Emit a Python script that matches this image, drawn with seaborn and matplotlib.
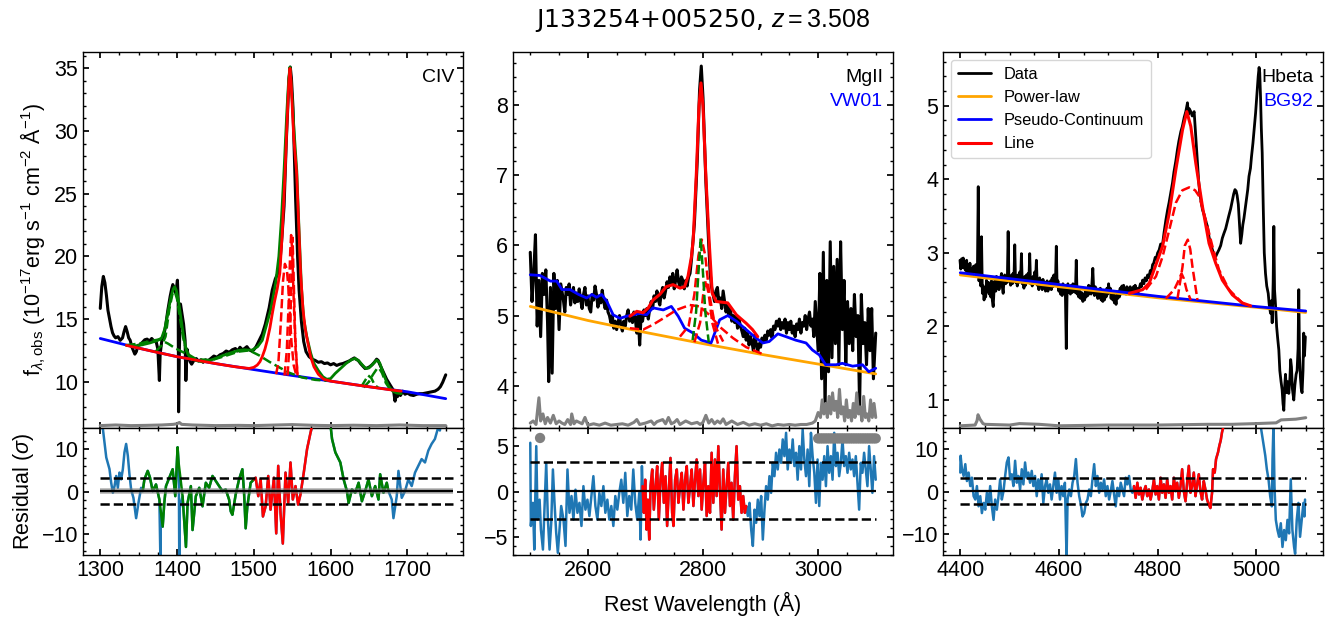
import numpy as np
import seaborn as sns
import matplotlib.pyplot as plt
from matplotlib.gridspec import GridSpec
from matplotlib.ticker import AutoMinorLocator, MultipleLocator

# ---------------- CIV window ----------------
civ_wave = [1300, 1302, 1304, 1306, 1308, 1310, 1312, 1314, 1316, 1318, 1320, 1323, 1326, 1329, 1331,
            1333, 1335, 1337, 1339, 1341, 1343, 1345, 1347, 1349, 1352, 1355, 1358, 1361, 1364, 1367,
            1370, 1373, 1375, 1377, 1378, 1380, 1382, 1385, 1388, 1391, 1393, 1394.5, 1396.5, 1398.5,
            1400.5, 1401.5, 1402, 1403, 1404.5, 1406.5, 1408.5, 1410.5, 1411.5, 1413, 1415, 1417, 1419,
            1422, 1425, 1428, 1431, 1434, 1437, 1440, 1444, 1448, 1452, 1456, 1460, 1464, 1468, 1472,
            1476, 1479, 1482, 1485, 1488, 1491, 1494, 1497, 1500, 1503, 1507, 1511, 1515, 1520, 1524,
            1528, 1531, 1533, 1536, 1539.4, 1542.4, 1545.8, 1547.5, 1549, 1551, 1554.5, 1557, 1559,
            1562, 1565, 1568, 1572, 1576, 1580, 1584, 1588, 1592, 1596, 1600, 1604, 1608, 1612, 1616,
            1620, 1624, 1628, 1631, 1633, 1636, 1639, 1642, 1645, 1648, 1651, 1654, 1657, 1660, 1662,
            1664, 1667, 1670, 1673, 1676, 1679, 1682, 1684, 1685.5, 1687, 1689, 1691, 1694, 1697, 1700,
            1704, 1708, 1712, 1716, 1720, 1724, 1728, 1732, 1736, 1740, 1743, 1746, 1748, 1750]
civ_flux = [15.85, 17.6, 18.4, 17.9, 16.9, 15.7, 15.05, 14.4, 13.9, 13.65, 13.5, 13.6, 13.3, 13.5, 14.0,
            14.4, 14.0, 13.5, 13.3, 12.8, 12.5, 12.2, 12.4, 12.9, 12.95, 13.15, 13.35, 13.4, 13.25, 13.45,
            13.25, 13.15, 12.6, 10.1, 12.2, 13.2, 13.5, 14.4, 15.7, 16.8, 17.4, 17.75, 17.4, 17.1,
            18.1, 16.5, 7.6, 12.5, 16.2, 15.4, 14.6, 13.3, 10.1, 12.6, 12.0, 11.6, 11.4,
            11.7, 11.85, 11.65, 11.75, 11.55, 11.75, 11.65, 11.85, 12.05, 11.95, 12.15, 12.25, 12.45, 12.35, 12.55,
            12.65, 12.45, 12.75, 12.55, 12.65, 12.8, 12.55, 12.45, 12.55, 12.8, 13.3, 13.8, 14.6, 15.9, 17.3,
            18.2, 18.6, 18.8, 21.0, 24.0, 29.3, 34.1, 35.1, 34.2, 31.9, 24.5, 20.0, 17.3,
            14.8, 13.2, 12.4, 12.0, 11.8, 11.7, 11.55, 11.6, 11.45, 11.5, 11.35, 11.45, 11.3, 11.4, 11.45,
            11.55, 11.65, 11.8, 11.9, 11.8, 11.7, 11.45, 11.25, 11.05, 11.1, 11.2, 11.35, 11.55, 11.8, 11.7,
            11.4, 11.0, 10.6, 10.2, 9.9, 9.6, 9.3, 8.45, 9.2, 8.8, 9.2, 8.9, 9.25, 9.0, 9.1,
            8.95, 8.9, 9.0, 9.05, 9.05, 9.1, 9.15, 9.2, 9.25, 9.4, 9.6, 9.95, 10.25, 10.55]
civ_err_wave = [1300, 1320, 1340, 1360, 1380, 1395, 1400, 1403, 1406, 1420, 1450, 1480, 1500, 1530,
                1550, 1580, 1600, 1630, 1660, 1690, 1720, 1750]
civ_err = [6.5, 6.55, 6.5, 6.52, 6.55, 6.6, 6.65, 6.75, 6.6, 6.55, 6.5, 6.52, 6.5, 6.55,
           6.58, 6.52, 6.5, 6.53, 6.5, 6.55, 6.5, 6.5]
civ_cont_wave = [1300, 1350, 1400, 1450, 1500, 1550, 1600, 1650, 1700, 1750]
civ_cont = [13.45, 12.68, 12.0, 11.45, 10.97, 10.5, 10.05, 9.6, 9.2, 8.65]
# total model (green)
civ_tot_wave = [1334, 1345, 1355, 1365, 1375, 1380, 1384, 1388, 1392, 1395, 1397, 1399, 1402, 1405, 1408,
                1411, 1414, 1418, 1424, 1432, 1440, 1450, 1460, 1470, 1480, 1488, 1494, 1498, 1505, 1511,
                1516, 1521.8, 1525, 1528.3, 1532.6, 1536, 1539.5, 1543, 1545.5, 1547.1, 1550, 1553, 1556,
                1559, 1562, 1565, 1569, 1574, 1578, 1584, 1590, 1595, 1600, 1606, 1612, 1620, 1627, 1632,
                1637, 1642, 1646, 1650, 1655, 1660, 1664, 1668, 1672, 1676, 1681, 1686, 1692]
civ_tot = [12.9, 12.85, 12.95, 13.1, 13.3, 13.5, 14.2, 15.5, 16.7, 17.4, 17.58, 17.3, 16.4, 15.1, 13.8,
           12.8, 12.2, 11.85, 11.7, 11.6, 11.65, 11.85, 12.1, 12.3, 12.5, 12.55, 12.52, 12.53, 12.8, 13.3,
           14.4, 15.7, 16.7, 17.8, 20.0, 23.0, 27.0, 31.5, 34.2, 35.1, 32.5, 29.5, 26.8,
           22.0, 17.6, 15.0, 13.6, 12.3, 11.5, 10.9, 10.4, 10.2, 10.25, 10.66, 11.0, 11.45, 11.75, 11.86,
           11.65, 11.3, 11.06, 11.1, 11.4, 11.73, 11.5, 10.8, 10.13, 9.6, 9.25, 9.1, 9.05]
# CIV line + continuum (red)
civ_line_wave = [1334, 1350, 1375, 1400, 1425, 1450, 1475, 1494, 1500, 1504.5, 1508, 1511, 1514.5,
                 1517.5, 1521, 1524, 1527, 1530.5, 1533.9, 1537, 1540.7, 1542.5, 1544.2, 1545.7, 1547.1,
                 1548.5, 1550.1, 1552, 1555.8, 1558.5, 1561, 1564, 1567, 1569.7, 1574, 1578.3, 1584,
                 1591, 1600, 1625, 1650, 1675, 1692]
civ_line = [12.9, 12.68, 12.33, 12.0, 11.72, 11.45, 11.2, 11.06, 11.15, 11.33, 11.6, 12.0, 12.6,
            13.3, 14.3, 15.4, 16.4, 17.4, 18.65, 21.8, 26.6, 29.5, 31.9, 34.0, 35.0,
            34.0, 31.9, 29.5, 26.6, 22.5, 18.65, 15.8, 14.2, 13.33, 12.0, 11.2, 10.6,
            10.2, 10.05, 9.82, 9.6, 9.38, 9.25]
# line components (red dashed)
civ_c1_wave = [1529, 1532, 1535, 1538, 1540.5, 1543, 1545, 1547, 1549, 1552, 1555]
civ_c1 = [10.6, 11.5, 14.5, 18.0, 19.4, 19.0, 17.5, 15.5, 13.2, 11.3, 10.6]
civ_c2_wave = [1540, 1543, 1545.5, 1547.5, 1548.6, 1550, 1552, 1554.5, 1557]
civ_c2 = [10.5, 12.5, 16.5, 20.5, 21.7, 20.5, 16.5, 12.5, 10.5]
civ_c3_wave = [1544, 1547, 1549, 1550.5, 1552, 1554, 1557]
civ_c3 = [10.5, 13.5, 18.0, 21.5, 18.0, 13.5, 10.4]
# other line components (green dashed)
civ_g1_wave = [1334, 1345, 1355, 1366, 1377, 1388, 1398, 1407, 1416, 1425, 1445, 1465, 1480, 1494,
               1507, 1520, 1533, 1546, 1563, 1580, 1595]
civ_g1 = [12.92, 13.0, 13.1, 13.25, 13.38, 13.05, 12.66, 12.38, 12.13, 11.8, 11.72, 12.1, 12.4, 12.5,
          12.1, 11.6, 11.15, 10.72, 10.34, 10.15, 10.08]
civ_g2_wave = [1372, 1380, 1385, 1390, 1394, 1397, 1400, 1404, 1408, 1412, 1418]
civ_g2 = [12.4, 12.9, 13.6, 15.8, 17.0, 17.2, 16.6, 15.0, 13.5, 12.5, 11.9]
civ_g3_wave = [1643, 1650, 1655, 1660, 1663, 1667, 1672, 1677]
civ_g3 = [9.55, 10.0, 10.55, 11.0, 11.1, 10.7, 9.9, 9.45]
civ_g4_wave = [1640, 1645, 1649, 1653, 1657, 1662]
civ_g4 = [9.6, 10.1, 10.5, 10.3, 9.8, 9.5]
# residuals
civ_res_wave = [1300, 1303.4, 1307.8, 1312, 1314.2, 1316.4, 1318.6, 1320.7, 1322.9, 1325, 1327.2, 1329.4,
                1331.5, 1333.7, 1335.9, 1338, 1340.2, 1343.2, 1346.7, 1350.1, 1353.2, 1355.3, 1357.5,
                1361.8, 1364.8, 1368.3, 1372.6, 1377, 1381.3, 1383.4, 1385.6, 1389.9, 1394.3, 1397.7,
                1400.7, 1402, 1407.2, 1411.6, 1413.7, 1418, 1420.2, 1424.5, 1428.9, 1433.2, 1437.5,
                1441.8, 1446.2, 1450.5, 1454.8, 1459.1, 1463.4, 1467.8, 1470, 1472.1, 1476.4, 1480.8,
                1485.1, 1487.2, 1489.4, 1491.6, 1495.9, 1500.2, 1502.4, 1505.8, 1508.9, 1511.9, 1515.4,
                1518.8, 1521.8, 1526.2, 1529.2, 1531.8, 1534.8, 1537.8, 1541.3, 1544.8, 1547.8, 1550.8,
                1554.3, 1557.7, 1560.8, 1565.1, 1569.4, 1575.9, 1599.7, 1601.9, 1606.2, 1612.7, 1617,
                1621.3, 1623.5, 1627.8, 1632.1, 1636.5, 1640.8, 1645.1, 1649.4, 1653.8, 1658.1, 1662.4,
                1664.6, 1668.9, 1673.2, 1675.4, 1679.7, 1681.9, 1686.2, 1688.4, 1692.7, 1697, 1701.3,
                1705.7, 1710, 1714.3, 1718.6, 1723, 1727.3, 1731.6, 1735.9, 1740.3, 1742.4, 1744.6]
civ_res = [15.2, 14.8, 8.05, 5.3, 2.08, -0.3, 1.28, 3.67, 0.88, 4.47, 2.87, 5.26,
           9.25, 11.24, 8.45, 4.07, 0.48, -1.51, -6.3, -2.3, 0.88, 0.1, 2.87,
           4.87, 3.27, 0.1, 1.68, -1.9, -8.3, -2.7, 1.28, 3.27, 5.26, -1.1,
           10.45, 6.86, -1.1, -13.1, -2.7, 1.28, -9.1, -1.1, 0.88, -3.5, 2.07,
           0.88, 3.67, 2.47, 1.28, 0.1, 0.48, -1.9, -4.7, -5.5, -0.7, 2.87,
           5.26, 0.1, -8.7, -3.5, 2.07, 2.87, 3.27, -1.1, 2.87, -5.9, -3.5,
           3.67, -4.3, 3.27, -9.9, 6.06, -5.1, -12.3, 4.47, -2.7, 6.86, -1.9,
           1.28, -3.1, -0.7, 4.47, 10.05, 15.6, 16.0, 12.4, 9.25, 6.86, 2.87,
           0.1, -2.7, 0.48, -0.3, 2.07, -2.3, 0.1, 2.87, -1.1, 1.28, -1.9,
           4.07, -0.3, 2.07, 0.1, -1.9, -6.3, -1.1, 4.87, -1.5, 0.1, 2.87,
           1.28, 4.47, 6.06, 7.66, 6.86, 9.65, 11.24, 12.4, 15.2, 14.4, 17.0]
civ_masked_wave = [1377.6, 1378.3, 1379.0, 1402.4, 1402.9, 1403.4]
civ_masked_res = [-9.1, -16.0, -5.0, 2.0, -16.0, -4.0]
civ_win_other = [(1355, 1500.2), (1599, 1675.4)]
civ_win_line = (1500.2, 1576)

# ---------------- MgII window ----------------
mg_wave = [2500, 2503, 2506, 2509, 2512, 2515, 2518, 2521, 2524, 2527, 2530, 2532, 2535, 2538, 2541,
           2544, 2547, 2550, 2553, 2556,
           2557.5, 2560, 2562.5, 2565, 2567.5, 2570, 2572.5, 2575, 2577.5, 2580, 2582.5, 2585, 2587.5,
           2590, 2592.5, 2595, 2597.5, 2600, 2602.5, 2605, 2607.5, 2610, 2612.5, 2615, 2617.5, 2620,
           2622.5, 2625, 2627.5, 2630, 2632.5, 2635, 2637.5, 2640, 2642.5, 2645, 2647.5, 2650, 2652.5,
           2655, 2657.5, 2660, 2662.5, 2665, 2667.5, 2670, 2672.5, 2675, 2677.5, 2680, 2682.5, 2685,
           2687.5, 2690, 2692.5, 2695, 2697.5, 2700, 2702.5, 2705, 2707.5, 2710, 2712.5, 2715, 2717.5,
           2720, 2722.5, 2725, 2727.5, 2730, 2732.5, 2735, 2737.5, 2740, 2742.5, 2745, 2747.5, 2750,
           2752.5, 2755, 2757.5, 2760, 2762.5, 2765, 2767.5, 2770, 2772.5, 2775, 2777.5, 2780,
           2785, 2790, 2794, 2797, 2800, 2805, 2810, 2812.5, 2815, 2817.5, 2820, 2822.5, 2825, 2827.5,
           2830, 2832.5, 2835, 2837.5, 2840, 2842.5, 2845, 2847.5, 2850, 2852.5, 2855, 2857.5, 2860,
           2862.5, 2865, 2867.5, 2870, 2872.5, 2875, 2877.5, 2880, 2882.5, 2885, 2887.5, 2890, 2892.5,
           2895, 2897.5, 2900, 2902.5, 2905, 2907.5, 2910, 2912.5, 2915, 2917.5, 2920, 2922.5, 2925,
           2927.5, 2930, 2932.5, 2935, 2937.5, 2940, 2942.5, 2945, 2947.5, 2950, 2952.5, 2955, 2957.5,
           2960, 2962.5, 2965, 2967.5, 2970, 2972.5, 2975, 2977.5, 2980, 2982.5, 2985, 2987.5, 2990,
           2992.5, 2995, 3000, 3003, 3006, 3009, 3012, 3015, 3018, 3021, 3024, 3027, 3030,
           3033, 3036, 3039, 3042, 3045, 3048, 3051, 3054, 3057, 3060, 3063, 3066, 3069, 3072, 3075,
           3078, 3081, 3084, 3087, 3090, 3093, 3096, 3100]
mg_flux = [5.9, 5.2, 5.6, 6.15, 4.85, 5.5, 4.7, 5.6, 5.3, 5.65, 4.9, 4.06, 5.4, 4.18, 5.6,
           5.1, 5.5, 4.8, 5.45, 5.3,
           5.22, 5.05, 5.4, 5.3, 5.45, 5.15, 5.3, 5.4, 5.18, 5.32, 5.2, 5.38, 5.22,
           5.1, 5.3, 5.4, 5.15, 5.28, 5.1, 5.05, 5.3, 5.22, 5.42, 5.3, 5.12, 5.28,
           5.18, 5.36, 5.2, 5.1, 5.22, 5.05, 5.0, 4.9, 5.0, 4.82, 4.92, 4.8, 4.9,
           5.0, 4.85, 4.78, 4.92, 4.85, 5.0, 5.08, 4.92, 5.0, 4.9, 5.05, 4.95, 4.75,
           5.0, 4.58, 5.0, 4.92, 5.08, 5.0, 5.1, 4.95, 5.1, 5.2, 5.1, 5.28, 5.2,
           5.35, 5.22, 5.15, 5.32, 5.4, 5.25, 5.35, 5.48, 5.4, 5.55, 5.45, 5.6, 5.38,
           5.5, 5.65, 5.48, 5.4, 5.55, 5.5, 5.38, 5.5, 5.42, 5.55, 5.6, 5.8,
           6.3, 7.2, 8.2, 8.55, 8.1, 6.9, 6.0, 5.6, 5.4, 5.3, 5.2, 5.35, 5.4, 5.2,
           5.25, 5.1, 5.35, 5.2, 5.05, 5.15, 5.0, 5.1, 4.92, 5.0, 4.9, 5.0, 4.82,
           4.95, 4.85, 4.78, 4.7, 4.82, 4.65, 4.75, 4.58, 4.7, 4.62, 4.5, 4.72, 4.6,
           4.48, 4.6, 4.55, 4.68, 4.62, 4.72, 4.65, 4.78, 4.72, 4.8, 4.68, 4.85, 4.8,
           4.92, 4.85, 4.95, 4.8, 4.9, 4.82, 4.95, 4.75, 4.9, 4.8, 4.92, 4.75, 4.85,
           4.7, 4.88, 4.8, 4.95, 4.75, 4.9, 4.85, 5.0, 4.8, 4.95, 5.05, 4.85, 4.95,
           4.7, 5.2, 4.5, 5.6, 4.1, 5.9, 3.65, 5.5, 4.2, 6.05, 4.4, 5.7, 4.6,
           5.8, 4.3, 6.05, 4.8, 5.5, 4.3, 5.2, 4.6, 5.1, 4.5, 5.3, 4.7, 5.0, 3.7, 5.3,
           4.6, 4.9, 4.3, 5.1, 4.5, 5.1, 4.1, 4.75]
mg_err_wave = [2500, 2505, 2510, 2515, 2518, 2522, 2526, 2530, 2535, 2540, 2545, 2550, 2555, 2560, 2565,
               2570, 2572, 2576, 2580, 2590, 2595, 2600, 2610, 2620, 2630, 2640, 2650, 2660, 2670, 2680,
               2685, 2690, 2700, 2710, 2715, 2720, 2730, 2735, 2740, 2745, 2750, 2755, 2760, 2770, 2780,
               2790, 2795, 2800, 2805, 2810, 2815, 2820, 2825, 2830, 2835, 2840, 2850, 2860, 2870, 2880,
               2890, 2900, 2910, 2920, 2930, 2940, 2950, 2960, 2970, 2980, 2990, 2995, 3000, 3004, 3007,
               3010, 3013, 3016, 3019, 3022, 3025, 3028, 3031, 3034, 3037, 3040, 3043, 3046, 3049, 3052,
               3055, 3058, 3061, 3064, 3067, 3070, 3073, 3076, 3079, 3082, 3085, 3088, 3091, 3094, 3097, 3100]
mg_err = [3.47, 3.5, 3.45, 3.83, 3.5, 3.6, 3.46, 3.55, 3.47, 3.58, 3.46, 3.5, 3.47, 3.45, 3.52,
          3.45, 3.6, 3.46, 3.5, 3.46, 3.55, 3.44, 3.46, 3.44, 3.47, 3.44, 3.45, 3.46, 3.44, 3.48,
          3.52, 3.45, 3.47, 3.5, 3.45, 3.49, 3.52, 3.46, 3.55, 3.46, 3.48, 3.52, 3.45, 3.5, 3.46,
          3.48, 3.45, 3.48, 3.58, 3.47, 3.52, 3.46, 3.5, 3.47, 3.53, 3.45, 3.5, 3.45, 3.48, 3.44,
          3.46, 3.44, 3.46, 3.43, 3.45, 3.44, 3.45, 3.44, 3.45, 3.45, 3.47, 3.5, 3.62, 3.55, 3.8,
          3.6, 3.75, 3.55, 3.85, 3.6, 3.9, 3.65, 3.78, 3.55, 3.95, 3.6, 3.7, 3.5, 3.8, 3.55,
          3.65, 3.5, 3.75, 3.55, 3.9, 3.6, 3.7, 3.5, 3.85, 3.55, 3.6, 3.5, 3.8, 3.55, 3.75, 3.55]
mg_pl_wave = [2500, 2600, 2700, 2800, 2900, 3000, 3100]
mg_pl = [5.13, 4.93, 4.76, 4.60, 4.45, 4.31, 4.17]
mg_fe_wave = [2500, 2517, 2535, 2546, 2555, 2569, 2584, 2598, 2607, 2615, 2624, 2633, 2644, 2656, 2667,
              2679, 2690, 2702, 2713, 2731, 2745, 2757, 2768, 2783, 2797, 2814, 2829, 2843, 2858, 2875,
              2892, 2904, 2915, 2930, 2944, 2961, 2979, 2990, 3002, 3013, 3031, 3042, 3060, 3077, 3088, 3100]
mg_fe = [5.58, 5.57, 5.49, 5.49, 5.37, 5.37, 5.30, 5.25, 5.30, 5.26, 5.30, 5.20, 5.01, 4.96, 4.99,
         5.01, 5.03, 5.01, 5.11, 5.08, 5.13, 4.99, 4.82, 4.75, 4.65, 4.61, 4.94, 5.0, 4.92, 4.80,
         4.68, 4.61, 4.63, 4.74, 4.70, 4.65, 4.61, 4.51, 4.44, 4.30, 4.30, 4.32, 4.28, 4.30, 4.20, 4.25]
mg_line_wave = [2673, 2685, 2696, 2705, 2713, 2725, 2736, 2748, 2760, 2768, 2774, 2780, 2783, 2788.5,
                2793, 2796.5, 2800, 2804.7, 2810.5, 2816, 2823, 2843, 2858, 2875, 2886, 2895]
mg_line = [4.99, 5.06, 5.04, 5.11, 5.22, 5.30, 5.41, 5.44, 5.39, 5.41, 5.56, 5.84, 6.08, 7.03,
           7.98, 8.31, 7.98, 7.03, 6.08, 5.32, 5.2, 5.18, 5.01, 4.89, 4.80, 4.70]
mg_c1_wave = [2673, 2696, 2713, 2731, 2754, 2777, 2794, 2811, 2829, 2852, 2875, 2907]
mg_c1 = [4.82, 4.80, 4.87, 4.96, 5.08, 5.15, 5.13, 5.01, 4.84, 4.68, 4.55, 4.44]
mg_c2_wave = [2760, 2775, 2785, 2792, 2798, 2804, 2811, 2821, 2835]
mg_c2 = [4.70, 4.85, 5.3, 5.85, 6.08, 5.85, 5.3, 4.85, 4.63]
mg_c3_wave = [2785, 2795, 2801, 2805, 2810, 2816, 2826]
mg_c3 = [4.62, 4.9, 5.35, 5.5, 5.3, 4.9, 4.6]
mg_n_wave = [2782, 2788, 2792, 2796, 2800, 2804, 2810]
mg_n = [4.65, 5.05, 5.6, 6.1, 5.6, 5.05, 4.62]
mg_res_wave = [2500, 2501, 2504.6, 2507, 2510.4, 2512.7, 2516.2, 2518.5, 2522, 2524.8, 2527.7, 2530.6,
               2533.5, 2536.4, 2539.3, 2542.1, 2545, 2547.9, 2550.8, 2553.7, 2557.7, 2561.2, 2564.6,
               2568.1, 2571.6, 2575, 2578.5, 2581.9, 2585.4, 2588.9, 2592.3, 2595.8, 2599.3, 2602.7,
               2606.2, 2609.6, 2613.1, 2616.6, 2620, 2623.5, 2627, 2630.4, 2633.9, 2637.3, 2640.8,
               2644.3, 2647.7, 2651.2, 2654.6, 2658.1, 2661.6, 2665, 2668.5, 2671.9, 2675.4, 2678.9,
               2682.3, 2685.8, 2689.3, 2691.6, 2693.9, 2695, 2697.3, 2699.6, 2702, 2704.2, 2706.6,
               2708.9, 2711.8, 2714.6, 2717.5, 2720.4, 2723.3, 2726.2, 2729.1, 2732, 2734.9, 2737.7,
               2740.6, 2743.5, 2746.4, 2748.7, 2751.6, 2754.5, 2757.3, 2760.2, 2763.1, 2766, 2768.9,
               2771.8, 2774.6, 2777.5, 2780.4, 2783.3, 2786.2, 2789, 2791.9, 2794.8, 2797.7, 2800.6,
               2803.5, 2806.4, 2809.2, 2812.1, 2815, 2817.9, 2820.8, 2823.7, 2826.6, 2829.4, 2832.3,
               2835.2, 2838.1, 2841, 2843.9, 2846.8, 2849.6, 2852.5, 2855.4, 2858.3, 2861.2, 2864.1,
               2867, 2869.8, 2872.7, 2875, 2877.9, 2880.8, 2883.7, 2886.6, 2889.5, 2892.3, 2895.2,
               2898.1, 2901, 2903.9, 2906.8, 2909.6, 2912.5, 2915.4, 2918.3, 2921.2, 2924.1, 2926.9,
               2929.8, 2932.7, 2935.6, 2938.5, 2941.4, 2944.3, 2947.1, 2950, 2952.9, 2955.8, 2958.7,
               2961.6, 2964.4, 2967.3, 2970.2, 2973.1, 2976, 2978.9, 2981.7, 2984.6, 2987.5, 2990.4,
               2993.3, 2996.2, 2999, 3001.9, 3004.8, 3007.7, 3010.6, 3013.5, 3016.3, 3019.2, 3022.1,
               3025, 3027.9, 3030.8, 3033.7, 3036.5, 3039.4, 3042.3, 3045.2, 3048.1, 3051, 3053.8,
               3056.7, 3059.6, 3062.5, 3065.4, 3071.2, 3074, 3076.9, 3079.8, 3082.7, 3085.6, 3088.5,
               3091.3, 3094.2, 3097.1, 3100]
mg_res = [5.37, -3.8, -1.25, -6.4, 5.0, -3.1, -0.9, -4.2, -6.4, -1.6, 3.16, -3.1,
          -6.4, -3.45, 2.43, -1.25, -4.55, -6.76, -4.2, -1.6, -3.1, -6.0, 2.43,
          -2.35, -0.5, -3.1, 0.2, -2.35, -1.25, -3.8, 0.59, -2.0, -0.9, -2.7,
          -0.5, 1.69, -1.6, -3.1, -0.15, -1.6, 0.59, -2.35, -0.9, -3.1, -1.6,
          -3.8, -0.5, -2.0, -0.15, 1.3, -1.25, 2.06, -2.7, -0.5, -2.0, 2.43,
          -1.25, -3.1, -0.15, -5.3, 2.8, 0.59, -2.35, 1.3, -4.2, -0.9, -5.3,
          0.59, 2.43, -2.0, 0.59, 2.8, -3.1, 1.3, 3.16, -1.25, 1.69, -3.8,
          0.2, 3.7, -2.35, -3.8, 1.3, 2.43, -1.25, 0.59, 2.06, -2.0, 1.3,
          2.8, -1.25, 0.59, 2.43, -1.6, 1.3, 3.53, -0.5, 2.43, -2.0, 0.96,
          3.16, -2.7, 0.59, -2.35, 4.27, -1.25, 3.53, -0.5, 5.0, 0.2, -4.2,
          2.43, -2.35, 0.59, 3.16, -1.6, 0.96, -3.1, 1.69, 5.0, -0.9, 0.59,
          -2.35, -0.5, -2.35, -1.6, -2.7, -1.25, -4.2, -6.0, -2.0, -3.45, -0.9,
          -2.7, -0.5, -5.3, -2.0, 0.59, -0.9, 1.69, -0.15, 3.16, 1.69, 4.27,
          2.43, 4.63, 3.16, 5.74, 3.9, 6.47, 2.43, 4.63, 3.16, 5.74, 2.8,
          4.27, 1.3, 5.0, 2.43, 6.84, 3.53, 1.69, 4.63, 0.59, 6.47, 3.9,
          2.06, -1.25, 3.53, -1.6, 3.16, 1.3, 3.9, 0.59, 5.0, 2.06, 3.9,
          1.3, 6.47, 2.8, 4.27, 1.69, 3.16, 5.74, 2.8, 3.9, 2.06, 4.27,
          2.43, 3.53, 1.69, 3.9, -2.0, 3.16, 2.06, 4.27, 2.43, 0.59, 5.0,
          2.43, -0.15, 3.9, 1.3]
mg_win_line = (2694, 2875)
mg_bad_wave = [2517, 3000, 3004, 3008, 3012, 3016, 3020, 3024, 3028, 3032, 3036, 3040, 3044, 3048,
               3052, 3056, 3060, 3064, 3068, 3072, 3076, 3080, 3084, 3088, 3092, 3096, 3100]
mg_bad_y = [5.9] + [5.85] * 26

# ---------------- Hbeta window ----------------
hb_wave = [4399.4, 4401, 4402.8, 4404.5, 4406, 4408, 4409.5, 4411, 4412.9, 4414.5, 4416.2, 4418, 4419.6,
           4421, 4423, 4425, 4427, 4429.7, 4431.5, 4433, 4434.8, 4436.4, 4437.8, 4439.8, 4441.5, 4443,
           4444.8, 4446.5, 4448.2, 4450, 4451.5, 4453.2, 4455, 4457, 4458.5, 4460, 4461.8, 4463.3, 4465,
           4466.7, 4468.5, 4470, 4472, 4473.4, 4475, 4477, 4478.5, 4480, 4482, 4483.5, 4485, 4486.9,
           4488.5, 4490, 4492, 4493.6, 4495.3, 4497, 4498.6, 4500.3, 4502, 4504, 4505.5, 4507, 4508.7,
           4510.4, 4512, 4513.8, 4515.5, 4517, 4519, 4520.5, 4522.2, 4523.9, 4525.6, 4527.3, 4529,
           4530.7, 4532.3, 4534, 4536, 4537.5, 4539, 4540.7, 4542.4, 4544.1, 4545.8, 4547.5, 4549,
           4550.8, 4552.5, 4554.2, 4556, 4557.5, 4559.2, 4560.9, 4562.6, 4564.3, 4566, 4567.6, 4569.3,
           4571, 4572.7, 4574.4, 4576, 4577.7, 4579.4, 4581.1, 4582.8, 4584.5, 4586.2, 4587.8, 4589.5,
           4591.2, 4592.9, 4594.6, 4596.2, 4597.9, 4599.6, 4601.3, 4603, 4604.7, 4606.4, 4608, 4609.7,
           4611.4, 4613, 4614.8, 4616.5, 4618.1, 4619.8, 4621.5, 4623.2, 4624.9, 4626.6, 4628.3, 4630,
           4631.6, 4633.3, 4635, 4636.6, 4638.3, 4640, 4642, 4644, 4646, 4648.4, 4650, 4652, 4653.5,
           4655.1, 4657, 4658.6, 4660.2, 4661.9, 4663.6, 4665.2, 4666.9, 4668.6, 4670.3, 4672, 4673.6,
           4675.3, 4677, 4678.7, 4680.4, 4682.1, 4683.8, 4685.4, 4687, 4688.8, 4690.5, 4692.2, 4693.8,
           4695.5, 4697.2, 4698.9, 4700.5, 4702.2, 4704, 4705.6, 4707.3, 4709, 4710.6, 4712.3, 4714,
           4715.7, 4717.4, 4719, 4720.7, 4722.4, 4724, 4725.8, 4727.5, 4729.2, 4731, 4732.5, 4734.2,
           4735.9, 4737.6, 4739.3, 4741, 4742.6, 4744.3, 4746, 4747.7, 4749.4, 4751, 4752.7, 4754.4,
           4756, 4758, 4760, 4762.8, 4765, 4767, 4769.5, 4772, 4774.5, 4777, 4779.6, 4782, 4785, 4787,
           4789.7, 4792, 4795, 4797, 4799.9, 4803, 4806, 4810, 4813, 4816.7, 4820, 4823, 4826.7, 4830,
           4833, 4836.8, 4840, 4843, 4847, 4850, 4853.7, 4857, 4860.4, 4862, 4864, 4867.1, 4870,
           4873.9, 4876, 4878.6, 4881, 4883, 4885.3, 4888, 4890.7, 4894, 4897, 4900.8, 4904, 4907,
           4910.9, 4914, 4917.6, 4921, 4924, 4927.7, 4931, 4934, 4937.8, 4941, 4944, 4947.9, 4951,
           4954, 4956.6, 4959, 4961, 4963.4, 4965.5, 4968.1, 4970.5, 4972.5, 4974.8, 4977, 4980,
           4982.5, 4985, 4988, 4990, 4993, 4995.5, 4998.4, 5001, 5003.7, 5005.5, 5006.8, 5008.5, 5010,
           5011.8, 5014, 5016, 5018.5, 5021, 5024, 5026, 5028.6, 5030.5, 5032, 5034, 5035.4, 5036.8,
           5038.7, 5041, 5043, 5045.5, 5047.5, 5050, 5052.2, 5054, 5055.6, 5057.5, 5059, 5061, 5063,
           5065.7, 5068, 5069.5, 5071.1, 5073, 5075.8, 5078, 5080.5, 5082.5, 5084.5, 5085.9, 5087.3,
           5089.3, 5091, 5092.6, 5094.5, 5095.9, 5097.5, 5099.3]
hb_flux = [2.90, 2.78, 2.92, 2.80, 2.93, 2.79, 2.88, 2.76, 2.90, 2.72, 2.80, 2.70, 2.86,
           2.74, 2.79, 2.70, 2.82, 2.74, 2.84, 2.68, 2.80, 3.90, 2.62, 2.72, 2.55, 3.22,
           2.45, 2.55, 2.36, 2.52, 2.40, 2.63, 2.48, 2.60, 2.44, 2.55, 2.40, 2.62, 2.35,
           2.27, 2.50, 2.62, 2.48, 2.68, 2.52, 2.64, 2.50, 2.58, 2.66, 2.72, 2.55, 2.45,
           2.62, 2.70, 2.58, 2.66, 2.60, 3.29, 2.62, 2.68, 2.56, 2.70, 2.58, 2.72, 2.62,
           3.11, 2.60, 2.66, 2.55, 2.70, 2.60, 2.74, 2.62, 2.99, 2.58, 2.66, 2.52,
           2.68, 2.56, 2.70, 2.60, 2.72, 2.62, 2.99, 2.58, 2.66, 2.55, 2.68, 2.58,
           2.74, 2.62, 2.90, 2.56, 2.64, 2.50, 2.66, 2.54, 2.62, 2.50, 2.64, 2.55,
           2.60, 2.48, 2.56, 2.62, 2.48, 2.58, 2.52, 2.62, 2.50, 2.66, 2.54, 2.70,
           2.56, 2.60, 3.09, 2.55, 2.62, 2.48, 2.56, 2.44, 2.52, 2.42, 2.58, 2.46,
           2.56, 2.44, 1.70, 2.50, 2.58, 2.46, 2.54, 2.44, 2.56, 2.46, 2.58, 2.48,
           2.54, 2.46, 2.90, 2.44, 2.50, 2.40, 2.48, 2.38, 2.46, 2.34, 2.44, 2.36, 2.50,
           2.40, 2.52, 2.42, 2.56, 2.45, 2.54, 2.44, 2.60, 2.79, 2.50, 2.42, 2.54,
           2.44, 2.50, 2.38, 2.48, 2.40, 2.52, 2.36, 2.44, 2.34, 2.44, 2.36, 2.48,
           2.40, 2.52, 2.44, 2.58, 2.46, 2.52, 2.38, 2.48, 2.36, 2.44, 2.32, 2.40,
           2.30, 2.44, 2.38, 2.48, 2.40, 2.52, 2.44, 2.55, 2.48, 2.56, 2.46, 2.52,
           2.44, 2.54, 2.46, 2.52, 2.48, 2.54, 2.44, 2.52, 2.46, 2.54, 2.48, 2.56,
           2.46, 2.52, 2.46, 2.52, 2.58, 2.54, 2.63, 2.58, 2.66, 2.62, 2.70, 2.66, 2.76, 2.72,
           2.84, 2.86, 2.94, 2.92, 3.00, 3.04, 3.12, 3.12, 3.28, 3.45, 3.58, 3.68, 3.82, 3.95,
           4.10, 4.25, 4.40, 4.52, 4.65, 4.72, 4.84, 4.92, 5.04, 4.88, 4.96, 4.92, 4.86,
           4.92, 4.70, 4.45, 4.18, 3.98, 3.81, 3.70, 3.59, 3.52, 3.44, 3.36, 3.22, 3.12,
           3.04, 2.98, 2.95, 3.00, 3.04, 3.10, 3.20, 3.26, 3.33, 3.42, 3.50, 3.60, 3.70,
           3.80, 3.86, 3.84, 3.78, 3.66, 3.42, 3.13, 3.25, 3.38, 3.47, 3.58, 3.72,
           3.86, 4.04, 4.15, 4.30, 4.49, 4.68, 4.90, 5.15, 5.40, 5.52, 5.45, 5.10, 4.70,
           4.36, 3.60, 3.00, 2.72, 2.55, 2.45, 2.30, 2.18, 2.35, 2.05, 2.60, 3.36, 2.50,
           2.30, 2.00, 1.85, 1.68, 1.40, 1.25, 1.14, 0.95, 0.86, 1.20, 1.35, 1.10, 1.25,
           1.09, 1.30, 1.55, 1.45, 1.15, 1.00, 1.20, 1.35, 1.40, 1.70, 2.50, 1.60,
           1.30, 1.15, 1.10, 1.40, 1.91, 1.60, 1.86]
hb_err_wave = [4400, 4430, 4434, 4436, 4440, 4446, 4450, 4500, 4520, 4560, 4600, 4700, 4800, 4900,
               4950, 5000, 5040, 5050, 5080, 5100]
hb_err = [0.65, 0.66, 0.72, 0.80, 0.74, 0.68, 0.67, 0.66, 0.68, 0.67, 0.65, 0.66, 0.66, 0.67,
          0.67, 0.68, 0.69, 0.73, 0.74, 0.76]
hb_pl_wave = [4400, 4600, 4800, 5000, 5100]
hb_pl = [2.70, 2.54, 2.39, 2.26, 2.19]
hb_fe_wave = [4400, 4600, 4800, 5000, 5100]
hb_fe = [2.73, 2.57, 2.41, 2.27, 2.21]
hb_line_wave = [4742.6, 4769.5, 4783, 4796.5, 4809.9, 4823.4, 4836.8, 4850.3, 4859, 4867.1, 4877.2,
                4890.7, 4904.1, 4917.6, 4931, 4951.3, 4971.4, 4988.3]
hb_line = [2.45, 2.50, 2.59, 2.84, 3.09, 3.54, 4.13, 4.67, 4.92, 4.72, 4.22,
           3.63, 3.13, 2.86, 2.63, 2.43, 2.32, 2.28]
hb_c1_wave = [4776, 4796.5, 4810, 4823.4, 4836.8, 4850, 4863.8, 4876, 4884, 4897.4, 4910.9, 4924.3,
              4944.5, 4971.4]
hb_c1 = [2.50, 2.68, 2.95, 3.31, 3.68, 3.85, 3.89, 3.85, 3.77, 3.45, 3.09, 2.77, 2.50, 2.32]
hb_c2_wave = [4840.2, 4850.3, 4855, 4861, 4866, 4870.5, 4880.6]
hb_c2 = [2.38, 2.81, 3.1, 3.18, 3.05, 2.81, 2.36]
hb_c3_wave = [4816.6, 4833.5, 4842, 4848.3, 4853, 4858.4, 4867]
hb_c3 = [2.38, 2.5, 2.62, 2.72, 2.65, 2.50, 2.36]
hb_res_wave = [4400, 4400.7, 4403.4, 4406.8, 4410.2, 4413.5, 4416.9, 4420.3, 4423.6, 4427, 4430.4, 4433.7,
               4437.1, 4440.5, 4443.8, 4447.2, 4450.6, 4453.9, 4457.3, 4460.6, 4464, 4467.4, 4470.7,
               4474.1, 4477.5, 4480.8, 4484.2, 4487.6, 4490.9, 4494.3, 4497.7, 4501, 4504.4, 4507.7,
               4511.1, 4514.5, 4517.8, 4521.2, 4524.6, 4527.9, 4531.3, 4534.7, 4538, 4541.4, 4544.8,
               4548.1, 4551.5, 4554.9, 4558.2, 4561.6, 4564.9, 4568.3, 4571.7, 4575, 4578.4, 4581.8,
               4585.1, 4588.5, 4591.9, 4595.2, 4598.6, 4602, 4605.3, 4608.7, 4612, 4615.4, 4617.4,
               4620.8, 4624.2, 4627.5, 4630.9, 4634.3, 4637.6, 4641, 4644.4, 4647.7, 4651.1, 4654.5,
               4657.8, 4661.2, 4664.6, 4667.9, 4671.3, 4674.7, 4678, 4681.4, 4684.8, 4688.1, 4691.5,
               4694.8, 4698.2, 4701.6, 4704.9, 4708.3, 4711.7, 4715, 4718.4, 4721.8, 4725.1, 4728.5,
               4731.9, 4735.2, 4738.6, 4742, 4745.3, 4748.7, 4752, 4755.4, 4758.8, 4762.1, 4765.5,
               4768.9, 4772.2, 4775.6, 4778.9, 4782.3, 4785.7, 4789, 4792.4, 4795.8, 4799.1, 4802.5,
               4805.9, 4809.2, 4812.6, 4816, 4819.3, 4822.7, 4826.1, 4829.4, 4832.8, 4836.2, 4839.5,
               4842.9, 4846.3, 4849.6, 4853, 4856.4, 4859.7, 4863.1, 4866.5, 4869.8, 4873.2, 4876.6,
               4879.9, 4883.3, 4886.6, 4890, 4893.4, 4896.7, 4900.1, 4903.5, 4906.8, 4910.2, 4912.2,
               4915.6, 4918.3, 4922.3, 4925, 4927.7, 4930.4, 4933.8, 5006, 5010, 5014, 5018, 5021.2,
               5024.6, 5028, 5031.3, 5032.7, 5034.7, 5036.7, 5039.4, 5042.8, 5046.1, 5049.5, 5052.9,
               5056.2, 5059.6, 5063, 5066.3, 5069.7, 5073, 5076.4, 5078.5, 5081.8, 5085.2, 5088.5,
               5091.9, 5095.3, 5097.3, 5098.6]
hb_res = [4.47, 8.45, 5.26, 3.67, 6.46, 2.47, 4.47, 1.28, 3.27, -1.1, -1.9, 1.28,
          -3.5, -1.1, -5.1, -2.7, -4.3, -0.3, -3.1, 1.28, -3.5, -6.7, -1.9,
          -4.3, -1.1, 2.87, -1.9, 0.1, 3.67, 6.86, 8.05, 2.87, 4.07, 1.28,
          7.26, 2.07, 3.67, 0.48, 5.26, 1.68, 6.86, 3.27, 4.47, 2.07, 4.87,
          1.28, 3.67, -1.1, 2.87, 0.48, 4.07, -2.7, 1.28, 2.87, -0.3, 1.68,
          -1.9, 1.28, 4.47, -0.3, 2.87, -1.9, 1.28, -1.1, 2.07, -16.0, -1.9,
          0.48, -1.1, 2.07, 3.67, 7.66, 2.07, -1.1, -3.1, -5.9, -5.1, -2.7,
          -1.9, 0.48, -1.1, 2.87, 6.46, 1.28, 3.67, -0.3, 2.07, 0.48, 2.87,
          -1.1, 1.28, -1.9, 0.1, 2.47, -0.7, -3.5, 0.88, -1.1, 2.07, 0.48,
          -1.1, 3.27, 1.68, 3.67, 0.48, -0.3, 1.28, -1.5, 2.07, -0.7, 0.88,
          -1.9, 0.1, 1.28, -1.1, 0.48, -1.9, 0.1, 2.87, -0.7, 1.28, -1.9,
          3.27, -0.3, 1.68, -1.5, 2.87, -0.3, 1.28, -1.9, 3.27, 0.1, 2.07,
          -1.5, 1.28, 5.26, 0.1, -2.3, 2.07, 6.06, -0.3, 1.28, 4.47, -1.1,
          1.68, 4.07, 0.1, -1.9, 2.47, 0.48, -1.9, -3.1, -3.9, -0.3, 5.26,
          4.47, 7.66, 9.25, 10.84, 12.04, 14.0, 15.6, 17.0, 14.5, 11.5, 8.5, 5.26,
          2.87, -1.1, -3.5, 7.66, 16.0, 1.28, -6.7, -9.1, -10.7, -7.5, -13.1,
          -9.1, -11.5, -6.7, -9.9, 2.87, -9.1, -13.1, -14.7, -6.7, -2.7, -10.7,
          -6.7, -2.7, -5.9, -1.9]
hb_win_line = (4750, 4934)

TEAL = "#1f77b4"


def draw(ax, x, y, color, lw=2.0, ls="-", z=2, label=None):
    kw = dict(x=np.asarray(x, float), y=np.asarray(y, float), ax=ax, color=color,
              linewidth=lw, linestyle=ls, zorder=z, sort=False, estimator=None)
    if label:
        kw["label"] = label
    sns.lineplot(**kw)


def draw_window(ax, wave, res, lo, hi, color):
    w = np.asarray(wave, float)
    r = np.asarray(res, float)
    m = (w >= lo) & (w <= hi)
    draw(ax, w[m], r[m], color, lw=1.8, z=3)


sns.set_theme(style="ticks")
plt.rcParams["font.family"] = ["Liberation Sans", "DejaVu Sans"]
plt.rcParams.update({
    "mathtext.fontset": "custom",
    "mathtext.rm": "Liberation Sans",
    "mathtext.it": "Liberation Sans:italic",
    "mathtext.bf": "Liberation Sans:bold",
    "text.color": "black",
    "axes.labelcolor": "black",
    "axes.edgecolor": "black",
    "axes.linewidth": 1.0,
    "xtick.color": "black",
    "ytick.color": "black",
    "xtick.direction": "in",
    "ytick.direction": "in",
    "xtick.top": True,
    "ytick.right": True,
    "xtick.major.size": 4.5,
    "ytick.major.size": 4.5,
    "xtick.minor.size": 2.5,
    "ytick.minor.size": 2.5,
    "xtick.labelsize": 15.5,
    "ytick.labelsize": 15.5,
})

fig = plt.figure(figsize=(13.33, 6.27), dpi=100)
gs = GridSpec(2, 3, figure=fig, height_ratios=[376, 127], left=83 / 1333, right=1323 / 1333,
              top=1 - 52 / 627, bottom=1 - 555 / 627, wspace=50 / 380, hspace=0)

xlims = [(1277.5, 1772.5), (2470, 3130), (4365, 5135)]
ylims_top = [(6.31, 36.3), (3.40, 8.75), (0.62, 5.73)]
ylims_bot = [(-15, 15), (-7, 7), (-15, 15)]

axes_top = [fig.add_subplot(gs[0, i]) for i in range(3)]
axes_bot = [fig.add_subplot(gs[1, i], sharex=axes_top[i]) for i in range(3)]

# ---- CIV ----
ax = axes_top[0]
draw(ax, civ_wave, civ_flux, "black", lw=2.2, z=1)
draw(ax, civ_err_wave, civ_err, "gray", lw=2.2, z=1)
draw(ax, civ_cont_wave, civ_cont, "blue", lw=2.0, z=2)
draw(ax, civ_g1_wave, civ_g1, "green", lw=1.8, ls="--", z=3)
draw(ax, civ_g2_wave, civ_g2, "green", lw=1.8, ls="--", z=3)
draw(ax, civ_g3_wave, civ_g3, "green", lw=1.8, ls="--", z=3)
draw(ax, civ_g4_wave, civ_g4, "green", lw=1.8, ls="--", z=3)
draw(ax, civ_tot_wave, civ_tot, "green", lw=2.0, z=4)
draw(ax, civ_c1_wave, civ_c1, "red", lw=1.8, ls="--", z=5)
draw(ax, civ_c2_wave, civ_c2, "red", lw=1.8, ls="--", z=5)
draw(ax, civ_c3_wave, civ_c3, "red", lw=1.8, ls="--", z=5)
draw(ax, civ_line_wave, civ_line, "red", lw=2.0, z=6)
ax.text(0.977, 0.955, "CIV", transform=ax.transAxes, ha="right", va="top", fontsize=14)
ax.set_ylabel(r"f$_{\lambda,\rm obs}$ (10$^{-17}$erg s$^{-1}$ cm$^{-2}$ $\rm\AA^{-1}$)", fontsize=15.5)

ax = axes_bot[0]
all_w = np.concatenate([civ_res_wave, civ_masked_wave])
all_r = np.concatenate([civ_res, civ_masked_res])
order = np.argsort(all_w)
draw(ax, all_w[order], all_r[order], TEAL, lw=1.8, z=2)
for lo, hi in civ_win_other:
    draw_window(ax, civ_res_wave, civ_res, lo, hi, "green")
draw_window(ax, civ_res_wave, civ_res, civ_win_line[0], civ_win_line[1], "red")
ax.hlines(0.15, 1300, 1760, color="gray", lw=4, alpha=0.6, zorder=5)
ax.hlines(0.15, 1300, 1760, color="black", lw=1.6, zorder=6)
ax.hlines([3.18, -2.88], 1300, 1760, color="black", lw=1.8, linestyles="--", zorder=6)
ax.set_ylabel(r"Residual ($\sigma$)", fontsize=15.5)

# ---- MgII ----
ax = axes_top[1]
draw(ax, mg_wave, mg_flux, "black", lw=2.2, z=1)
draw(ax, mg_err_wave, mg_err, "gray", lw=2.2, z=1)
draw(ax, mg_pl_wave, mg_pl, "orange", lw=2.0, z=2)
draw(ax, mg_fe_wave, mg_fe, "blue", lw=2.0, z=3)
draw(ax, mg_c1_wave, mg_c1, "red", lw=1.8, ls="--", z=4)
draw(ax, mg_c2_wave, mg_c2, "red", lw=1.8, ls="--", z=4)
draw(ax, mg_c3_wave, mg_c3, "red", lw=1.8, ls="--", z=4)
draw(ax, mg_n_wave, mg_n, "green", lw=1.8, ls="--", z=5)
draw(ax, mg_line_wave, mg_line, "red", lw=2.2, z=6)
ax.text(0.975, 0.955, "MgII", transform=ax.transAxes, ha="right", va="top", fontsize=14)
ax.text(0.975, 0.89, "VW01", transform=ax.transAxes, ha="right", va="top", fontsize=14, color="blue")

ax = axes_bot[1]
draw(ax, mg_res_wave, mg_res, TEAL, lw=1.8, z=2)
draw_window(ax, mg_res_wave, mg_res, mg_win_line[0], mg_win_line[1], "red")
sns.scatterplot(x=mg_bad_wave, y=mg_bad_y, ax=ax, color="gray", s=55, edgecolor="none", zorder=7)
ax.hlines(0.08, 2500, 3100, color="black", lw=1.6, zorder=6)
ax.hlines([3.2, -3.0], 2500, 3100, color="black", lw=1.8, linestyles="--", zorder=6)

# ---- Hbeta ----
ax = axes_top[2]
draw(ax, hb_wave, hb_flux, "black", lw=2.0, z=1, label="Data")
draw(ax, hb_err_wave, hb_err, "gray", lw=2.2, z=1)
draw(ax, hb_pl_wave, hb_pl, "orange", lw=2.0, z=2, label="Power-law")
draw(ax, hb_fe_wave, hb_fe, "blue", lw=2.0, z=3, label="Pseudo-Continuum")
draw(ax, hb_c1_wave, hb_c1, "red", lw=1.8, ls="--", z=4)
draw(ax, hb_c2_wave, hb_c2, "red", lw=1.8, ls="--", z=4)
draw(ax, hb_c3_wave, hb_c3, "red", lw=1.8, ls="--", z=4)
draw(ax, hb_line_wave, hb_line, "red", lw=2.2, z=6, label="Line")
ax.text(0.975, 0.955, "Hbeta", transform=ax.transAxes, ha="right", va="top", fontsize=14)
ax.text(0.975, 0.89, "BG92", transform=ax.transAxes, ha="right", va="top", fontsize=14, color="blue")
handles, labels = ax.get_legend_handles_labels()
ax.legend(handles, labels, loc="upper left", fontsize=11.8, frameon=True, fancybox=True,
          edgecolor="0.8", framealpha=0.8)

ax = axes_bot[2]
draw(ax, hb_res_wave, hb_res, TEAL, lw=1.8, z=2)
draw_window(ax, hb_res_wave, hb_res, hb_win_line[0], hb_win_line[1], "red")
ax.hlines(0.15, 4400, 5100, color="black", lw=1.6, zorder=6)
ax.hlines([3.18, -2.88], 4400, 5100, color="black", lw=1.8, linestyles="--", zorder=6)

# ---- axes cosmetics ----
x_major = [100, 200, 200]
x_minor = [4, 4, 4]
top_major = [5, 1, 1]
bot_major = [10, 5, 10]
for i in range(3):
    at, ab = axes_top[i], axes_bot[i]
    at.set_xlim(*xlims[i])
    at.set_ylim(*ylims_top[i])
    ab.set_ylim(*ylims_bot[i])
    at.xaxis.set_major_locator(MultipleLocator(x_major[i]))
    at.xaxis.set_minor_locator(AutoMinorLocator(x_minor[i]))
    at.yaxis.set_major_locator(MultipleLocator(top_major[i]))
    at.yaxis.set_minor_locator(AutoMinorLocator(5))
    ab.yaxis.set_major_locator(MultipleLocator(bot_major[i]))
    ab.yaxis.set_minor_locator(AutoMinorLocator(5))
    at.tick_params(labelbottom=False)
    for a in (at, ab):
        a.tick_params(which="both", top=True, right=True, direction="in")
        a.set_xlabel("")
        if i > 0:
            a.set_ylabel("")

fig.text(703 / 1333, 1 - 604 / 627, "Rest Wavelength (Å)", ha="center", va="center", fontsize=15.5)
fig.text(703 / 1333, 1 - 21 / 627, r"J133254+005250, $z=3.508$", ha="center", va="center",
         fontsize=18, family=["DejaVu Sans"])

fig.savefig("out.png", dpi=100)
